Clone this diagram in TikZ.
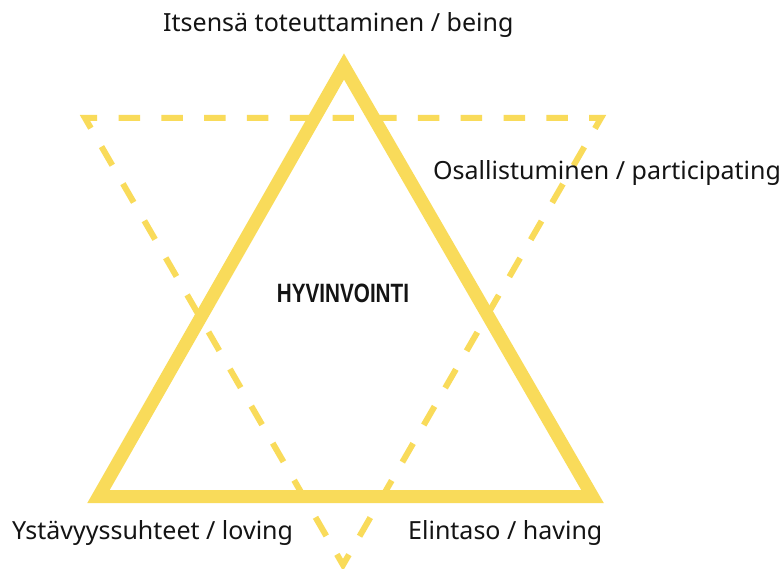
\documentclass[tikz,border=0pt]{standalone}
\usepackage{fontspec}
\setmainfont{Noto Sans}
\newfontfamily\headfont{Liberation Sans}
\definecolor{sun}{RGB}{249,219,90}
\definecolor{ink}{RGB}{20,20,20}
% one side of the dashed triangle: a long corner dash, then 11 dashes with 12 gaps
\def\sidedash{on 24pt off 21.3pt
  on 21.5pt off 21.3pt on 21.5pt off 21.3pt on 21.5pt off 21.3pt
  on 21.5pt off 21.3pt on 21.5pt off 21.3pt on 21.5pt off 21.3pt
  on 21.5pt off 21.3pt on 21.5pt off 21.3pt on 21.5pt off 21.3pt
  on 21.5pt off 21.3pt on 21.5pt off 21.3pt}
\tikzset{
  solidtri/.style={draw=sun, line width=13pt, line join=miter},
  dashtri/.style={draw=sun, line width=6pt, dash pattern/.expanded=\sidedash,
    dash phase=270pt, line join=miter},
  label/.style={text=ink, font=\fontsize{25}{30}\selectfont, inner sep=0pt},
  centre/.style={text=ink, inner sep=0pt}
}
\begin{document}
\begin{tikzpicture}[x=1pt,y=-1pt]
\useasboundingbox[fill=white] (0,0) rectangle (784,569);
% dashed, downward-pointing triangle (side 516), started mid-dash on the top edge
\coordinate (TL) at (85,118);
\coordinate (TR) at (601,118);
\coordinate (B) at (343,564.9);
\coordinate (M) at (343,118);
\draw[dashtri] (M) -- (TR) -- (B) -- (TL) -- cycle;
% solid, upward-pointing triangle
\coordinate (A) at (344,66.5);
\coordinate (BL) at (98.5,496.5);
\coordinate (BR) at (592.5,496.5);
\draw[solidtri] (A) -- (BL) -- (BR) -- cycle;
% labels
\node[label, anchor=base west] (being) at (163,32) {Itsensä toteuttaminen / being};
\node[label, anchor=base west] (part) at (433,180) {Osallistuminen / participating};
\node[label, anchor=base west] (love) at (12,539) {Ystävyyssuhteet / loving};
\node[label, anchor=base west] (have) at (408,539) {Elintaso / having};
\node[centre, anchor=base] (hyv) at (343,302) {\scalebox{0.78}[1]{\headfont\bfseries\fontsize{26.5}{30}\selectfont HYVINVOINTI}};
\end{tikzpicture}
\end{document}
